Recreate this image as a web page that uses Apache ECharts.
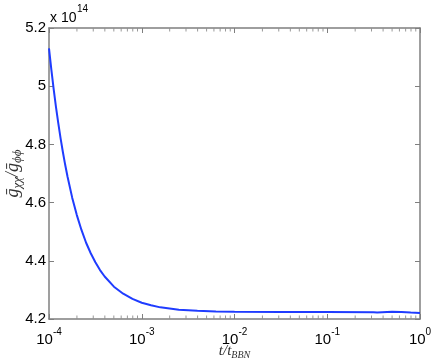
<!DOCTYPE html>
<html><head><meta charset="utf-8">
<script src="https://cdn.jsdelivr.net/npm/echarts@6/dist/echarts.min.js"></script>
<style>html,body{margin:0;padding:0;background:#fff}#c{width:436px;height:360px}</style>
</head><body><div id="c"></div>
<script>
// time t / t_BBN (log axis)
const tValues = [1e-4, 1.0593e-4, 1.1220e-4, 1.1885e-4, 1.2589e-4, 1.3335e-4, 1.4125e-4, 1.4962e-4,
  1.5849e-4, 1.7783e-4, 1.9953e-4, 2.2387e-4, 2.5119e-4, 2.8184e-4, 3.1623e-4, 3.5481e-4, 3.9811e-4,
  5.0119e-4, 6.3096e-4, 7.9433e-4, 1e-3, 1.2589e-3, 1.5849e-3, 1.9953e-3, 2.5119e-3, 3.9811e-3,
  6.3096e-3, 1e-2, 3.162e-2, 0.1, 0.3162, 0.33, 0.345, 0.36, 0.5, 0.631, 0.7943, 1];
// g_chichi / g_phiphi in units of 1e14
const ratioValues = [5.130, 5.058, 4.991, 4.929, 4.873, 4.821, 4.773, 4.729,
  4.689, 4.617, 4.557, 4.506, 4.462, 4.426, 4.395, 4.368, 4.346,
  4.311, 4.287, 4.269, 4.256, 4.247, 4.240, 4.236, 4.232, 4.228,
  4.226, 4.225, 4.224, 4.224, 4.223, 4.2215, 4.2225, 4.225, 4.225, 4.224, 4.222, 4.221];
const xMinorTicks = [2e-4,3e-4,4e-4,5e-4,6e-4,7e-4,8e-4,9e-4,
  2e-3,3e-3,4e-3,5e-3,6e-3,7e-3,8e-3,9e-3,
  2e-2,3e-2,4e-2,5e-2,6e-2,7e-2,8e-2,9e-2,
  0.2,0.3,0.4,0.5,0.6,0.7,0.8,0.9];
const yMin = 4.2, yMax = 5.2, yStep = 0.2;
const xMin = 1e-4, xMax = 1;
const scaleBase = 'x 10', scaleExp = '14';

const axisGray = '#7f7f7f';
const chart = echarts.init(document.getElementById('c'), null, {renderer: 'canvas'});
const lineData = tValues.map((t, i) => [t, ratioValues[i]]);
const minorBottom = xMinorTicks.map(t => [t, yMin]);
const minorTop = xMinorTicks.map(t => [t, yMax]);

const baseX = {
  type: 'log', logBase: 10, min: xMin, max: xMax,
  axisLine: {show: true, lineStyle: {color: axisGray, width: 1.5}},
  axisTick: {show: true, inside: true, length: 5, lineStyle: {color: axisGray, width: 1}},
  splitLine: {show: false}, minorTick: {show: false}
};
const baseY = {
  type: 'value', min: yMin, max: yMax, interval: yStep,
  axisLine: {show: true, lineStyle: {color: axisGray, width: 1.5}},
  axisTick: {show: true, inside: true, length: 5, lineStyle: {color: axisGray, width: 1}},
  splitLine: {show: false}
};

chart.setOption({
  animation: false,
  backgroundColor: '#fff',
  title: [
    {
      text: scaleBase, left: 50, top: 11, padding: 0,
      textStyle: {fontFamily: 'Liberation Sans', fontSize: 14, fontWeight: 'normal', color: '#000', lineHeight: 14}
    },
    {
      text: scaleExp, left: 77, top: 4, padding: 0,
      textStyle: {fontFamily: 'Liberation Sans', fontSize: 10, fontWeight: 'normal', color: '#000', lineHeight: 10}
    }
  ],
  grid: {left: 49, right: 16, top: 28, bottom: 41, containLabel: false, outerBoundsMode: 'none'},
  xAxis: [
    Object.assign({}, baseX, {
      position: 'bottom',
      name: '{i|t/t}{s|BBN}', nameLocation: 'middle', nameGap: 25, nameMoveOverlap: false,
      nameTextStyle: {
        rich: {
          i: {fontFamily: 'Liberation Serif', fontStyle: 'italic', fontSize: 15, color: '#333', lineHeight: 16, verticalAlign: 'top'},
          s: {fontFamily: 'Liberation Serif', fontStyle: 'italic', fontSize: 10, color: '#333', lineHeight: 10, verticalAlign: 'bottom'}
        }
      },
      axisLabel: {
        show: true, margin: 8,
        formatter: v => '{b|10}{s|' + Math.round(Math.log10(v)) + '}',
        rich: {
          b: {fontFamily: 'Liberation Sans', fontSize: 15, color: '#000', lineHeight: 20, verticalAlign: 'bottom'},
          s: {fontFamily: 'Liberation Sans', fontSize: 10, color: '#000', lineHeight: 10, verticalAlign: 'top'}
        }
      }
    }),
    Object.assign({}, baseX, {position: 'top', axisLabel: {show: false}})
  ],
  yAxis: [
    Object.assign({}, baseY, {
      position: 'left',
      name: '{g|ḡ}{s|χχ}{g|/ḡ}{s|ϕϕ}', nameLocation: 'middle', nameGap: 25, nameMoveOverlap: false,
      nameTextStyle: {
        rich: {
          g: {fontFamily: 'Liberation Serif', fontStyle: 'italic', fontSize: 18, color: '#333', lineHeight: 20, verticalAlign: 'top'},
          s: {fontFamily: 'Liberation Serif', fontStyle: 'italic', fontSize: 13, color: '#333', lineHeight: 13, verticalAlign: 'bottom'}
        }
      },
      axisLabel: {
        show: true, margin: 3, color: '#000', fontFamily: 'Liberation Sans', fontSize: 15,
        formatter: v => String(parseFloat(v.toFixed(1)))
      }
    }),
    Object.assign({}, baseY, {position: 'right', axisLabel: {show: false}})
  ],
  series: [
    {
      type: 'line', data: lineData, xAxisIndex: 0, yAxisIndex: 0,
      showSymbol: false, smooth: false,
      lineStyle: {color: '#1f3cff', width: 2}, z: 5
    },
    {
      type: 'scatter', data: minorBottom, xAxisIndex: 0, yAxisIndex: 0, silent: true, clip: false,
      symbol: 'rect', symbolSize: [1, 3], symbolOffset: [0, -2],
      itemStyle: {color: axisGray}, z: 3
    },
    {
      type: 'scatter', data: minorTop, xAxisIndex: 0, yAxisIndex: 0, silent: true, clip: false,
      symbol: 'rect', symbolSize: [1, 3], symbolOffset: [0, 2],
      itemStyle: {color: axisGray}, z: 3
    }
  ]
});
</script>
</body></html>
